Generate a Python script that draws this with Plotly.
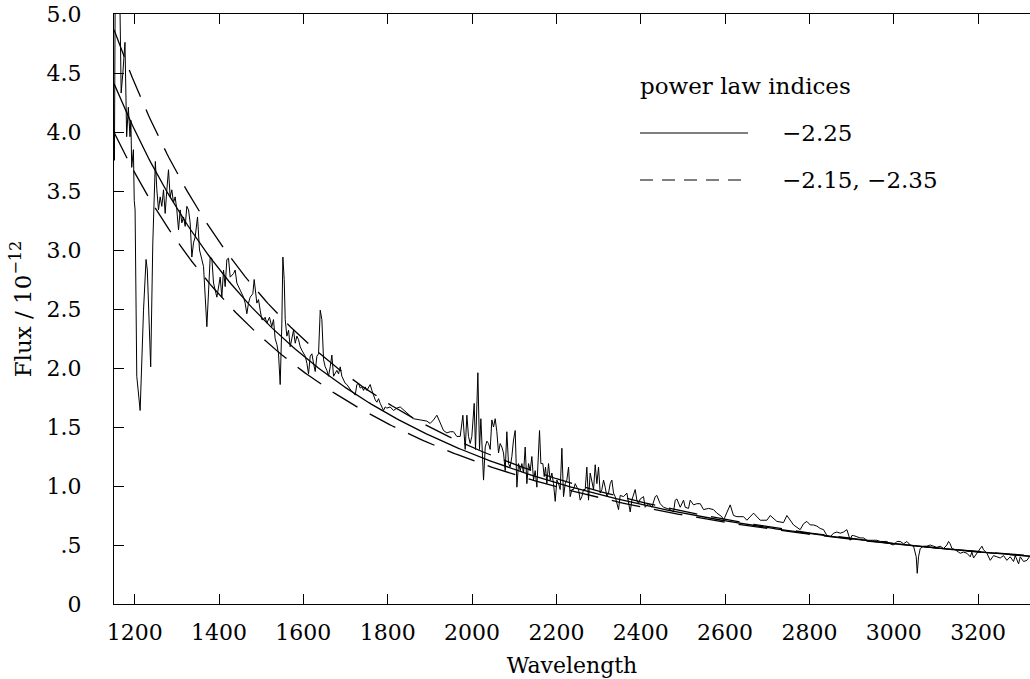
import numpy as np
import plotly.graph_objects as go

# ---- observed spectrum (wavelength, flux in 1e-12 units) ----
wavelength = [
    1151, 1152, 1154, 1160, 1165, 1166, 1168, 1172, 1177, 1181, 1185, 1189, 1191, 1193, 1197, 1199,
    1201, 1205, 1213, 1221, 1227, 1230, 1235, 1238, 1243, 1246, 1249,
    1252.6, 1256.5, 1260.5, 1264.4, 1268.4, 1272.3, 1276.3, 1280.2, 1284.2, 1288.1, 1292.1, 1296.0,
    1300.0, 1304.0, 1307.9, 1311.9, 1315.8, 1319.8, 1323.7, 1327.7, 1331.6, 1335.6, 1339.5, 1343.5,
    1349.0, 1353.8, 1363.3, 1371.2, 1379.1, 1383.0, 1387.0, 1394.9, 1402.8, 1406.7, 1410.7, 1414.6,
    1418.6, 1422.5, 1426.5, 1434.4, 1438.3, 1442.3, 1450.2, 1458.1, 1462.0, 1466.0, 1469.9, 1473.9,
    1480.2, 1483.4, 1489.7, 1493.6, 1497.6, 1501.5, 1505.5, 1509.4, 1513.4, 1519.7, 1525.2, 1529.2,
    1533.1, 1537.1,
    1541.1, 1545.1, 1549.0, 1551.4, 1554.6, 1557.0, 1560.9, 1564.9, 1568.8, 1572.8, 1576.7, 1580.7,
    1584.6, 1588.6, 1592.5, 1596.5, 1600.5, 1604.4, 1608.4, 1612.3, 1616.3, 1620.2, 1624.2, 1628.1,
    1632.1, 1636.0, 1640.0, 1643.9, 1647.9, 1651.8, 1655.8, 1659.7, 1663.7, 1667.6, 1671.6, 1675.5,
    1679.5, 1683.4, 1687.4, 1691.3, 1695.3, 1699.2, 1703.2, 1707.1, 1711.1, 1715.0, 1719.0, 1723.0,
    1726.9, 1730.9, 1734.8, 1738.8, 1742.7, 1746.7, 1750.6, 1754.6, 1758.5, 1762.5, 1766.4, 1770.4,
    1774.3, 1778.3, 1782.2, 1786.2, 1790.1, 1794.1, 1798.0, 1805.9, 1813.8, 1821.7,
    1829.6, 1845.4, 1861.2, 1877.0, 1892.8, 1900.7, 1908.6, 1916.6, 1924.5, 1932.4, 1940.3, 1948.2,
    1956.1, 1964.0, 1971.9, 1978.2, 1983.7, 1987.7, 1991.6, 1995.6, 1999.5, 2005.1, 2008.2, 2013.8,
    2017.7, 2020.9, 2027.2, 2031.2, 2035.1, 2039.1, 2043.0, 2047.0, 2050.9, 2054.9, 2058.8, 2062.8,
    2066.7, 2070.7, 2074.6, 2078.6, 2082.5, 2086.5, 2090.4, 2094.4, 2098.3, 2102.3, 2106.3, 2110.2,
    2114.2, 2118.1, 2122.1, 2126.0, 2130.0, 2133.9, 2137.9, 2141.8, 2145.8, 2149.7, 2153.7, 2157.6,
    2160.0, 2163.2, 2167.9, 2171.1, 2174.2, 2177.4, 2181.3, 2185.3, 2189.3, 2193.2, 2197.2, 2201.1,
    2205.1, 2209.0, 2213.0, 2216.9, 2220.9, 2224.8, 2228.8, 2232.7, 2236.7, 2240.6, 2244.6, 2248.5,
    2252.5, 2256.4, 2260.4, 2264.3, 2268.3, 2272.2, 2276.2, 2280.1, 2284.1, 2288.1, 2292.0, 2296.0,
    2299.9, 2303.9, 2307.8, 2311.8, 2315.7, 2319.7, 2323.6, 2327.6, 2331.5, 2335.5, 2339.4, 2343.4,
    2347.3, 2351.3, 2359.2, 2367.1, 2371.0, 2375.0, 2378.9, 2386.8, 2390.8, 2394.7, 2398.7, 2406.6,
    2410.5, 2418.5, 2426.4, 2434.3, 2438.2, 2446.1, 2454.0, 2461.9, 2469.9, 2477.8, 2481.7, 2485.7,
    2493.6, 2501.5, 2505.4, 2513.3, 2517.3, 2525.2, 2533.1, 2541.0, 2548.9, 2560.8, 2572.6, 2580.5,
    2592.4, 2596.3, 2604.2, 2612.1, 2620.0, 2628.0, 2643.8, 2651.7, 2667.5, 2675.4, 2683.3, 2699.1,
    2707.0, 2722.8, 2738.6, 2746.5, 2762.3, 2778.1,
    2786.0, 2793.9, 2801.8, 2809.7, 2817.7, 2825.6, 2833.5, 2841.4, 2849.3, 2857.2, 2865.1, 2873.0,
    2880.9, 2888.8, 2896.7, 2900.6, 2904.6, 2912.5, 2920.4, 2928.3, 2936.2, 2944.1, 2952.0, 2959.9,
    2967.8, 2975.7, 2983.6, 2991.5, 2999.5, 3007.4, 3015.3, 3023.2, 3031.1, 3039.0, 3046.9, 3053.2,
    3055.6, 3058.7, 3062.7, 3070.6, 3078.5, 3086.4, 3094.3, 3102.2, 3110.1, 3118.0, 3125.9, 3129.9,
    3133.8, 3137.8, 3145.7, 3153.6, 3157.5, 3165.4, 3173.4, 3181.3, 3185.2, 3189.2, 3197.1, 3205.0,
    3208.9, 3212.9, 3220.8, 3228.7, 3236.6, 3244.5, 3252.4, 3260.3, 3268.2, 3276.1, 3284.0, 3288.0,
    3295.9, 3299.9, 3307.8, 3315.7, 3323.6,
]
flux = [
    4.00, 3.76, 5.30, 5.30, 5.10, 4.50, 4.33, 4.50, 4.76, 3.96, 4.21, 3.96, 4.10, 3.70, 3.85, 3.42,
    3.34, 1.93, 1.64, 2.49, 2.92, 2.83, 2.21, 2.01, 3.06, 3.40, 3.75,
    3.51, 3.34, 3.45, 3.37, 3.51, 3.31, 3.51, 3.68, 3.45, 3.51, 3.40, 3.45,
    3.34, 3.17, 3.34, 3.23, 3.28, 3.20, 3.37, 3.34, 3.23, 2.94, 3.06, 3.11,
    3.28, 3.00, 2.86, 2.35, 2.94, 2.93, 2.72, 2.60, 2.77, 2.60, 2.83, 2.69,
    2.92, 2.93, 2.77, 2.80, 2.83, 2.72, 2.66, 2.60, 2.55, 2.46, 2.55, 2.60,
    2.63, 2.75, 2.55, 2.58, 2.49, 2.41, 2.41, 2.43, 2.38, 2.43, 2.35, 2.41,
    2.25, 2.20,
    2.12, 1.86, 2.38, 2.94, 2.75, 2.41, 2.27, 2.32, 2.18, 2.24, 2.32, 2.21,
    2.27, 2.24, 2.18, 2.15, 2.12, 2.10, 2.04, 1.95, 2.10, 2.12, 2.04, 1.97,
    2.10, 2.12, 2.49, 2.41, 2.07, 2.01, 1.98, 1.93, 2.01, 2.11, 1.93, 1.95,
    1.98, 1.95, 2.01, 1.93, 1.90, 1.87, 1.86, 1.84, 1.83, 1.80, 1.79, 1.77,
    1.86, 1.87, 1.83, 1.84, 1.81, 1.84, 1.81, 1.84, 1.86, 1.81, 1.76, 1.73,
    1.71, 1.74, 1.70, 1.67, 1.64, 1.67, 1.66, 1.67, 1.64, 1.66,
    1.67, 1.62, 1.57, 1.56, 1.55, 1.53, 1.56, 1.60, 1.53, 1.47, 1.45, 1.46,
    1.46, 1.42, 1.42, 1.60, 1.31, 1.60, 1.42, 1.36, 1.42, 1.70, 1.31, 1.96,
    1.31, 1.57, 1.05, 1.33, 1.38, 1.36, 1.31, 1.56, 1.50, 1.57, 1.46, 1.28,
    1.36, 1.33, 1.28, 1.13, 1.46, 1.19, 1.16, 1.25, 1.39, 1.47, 0.99, 1.19,
    1.13, 1.19, 1.11, 1.33, 1.02, 1.19, 1.13, 1.25, 1.05, 1.13, 0.99, 1.31,
    1.47, 1.19, 1.19, 1.08, 1.16, 1.02, 1.19, 1.05, 1.11, 1.02, 0.87, 1.05,
    1.02, 0.97, 1.32, 0.91, 1.02, 1.05, 1.16, 0.91, 0.97, 0.97, 1.02, 0.99,
    0.97, 0.88, 0.91, 0.97, 0.97, 1.16, 0.88, 1.11, 1.02, 0.97, 1.18, 1.02,
    1.16, 0.94, 0.97, 1.05, 0.99, 0.91, 0.94, 1.02, 1.05, 0.94, 0.91, 0.85,
    0.80, 0.92, 0.91, 0.94, 0.85, 0.78, 0.88, 0.97, 0.88, 0.85, 0.89, 0.91,
    0.82, 0.85, 0.82, 0.91, 0.92, 0.85, 0.82, 0.81, 0.80, 0.78, 0.88, 0.89,
    0.82, 0.88, 0.82, 0.81, 0.88, 0.84, 0.85, 0.85, 0.80, 0.81, 0.80, 0.77,
    0.74, 0.71, 0.77, 0.84, 0.75, 0.74, 0.74, 0.71, 0.77, 0.74, 0.71, 0.71,
    0.75, 0.70, 0.69, 0.75, 0.67, 0.63,
    0.68, 0.70, 0.67, 0.67, 0.66, 0.64, 0.63, 0.58, 0.57, 0.60, 0.61, 0.60,
    0.61, 0.63, 0.54, 0.58, 0.58, 0.57, 0.56, 0.56, 0.54, 0.54, 0.54, 0.54,
    0.53, 0.53, 0.53, 0.51, 0.50, 0.53, 0.53, 0.51, 0.53, 0.50, 0.49, 0.40,
    0.26, 0.40, 0.47, 0.49, 0.49, 0.50, 0.49, 0.48, 0.49, 0.47, 0.50, 0.53,
    0.51, 0.47, 0.46, 0.44, 0.43, 0.44, 0.43, 0.40, 0.44, 0.39, 0.43, 0.47,
    0.49, 0.46, 0.43, 0.37, 0.41, 0.40, 0.39, 0.41, 0.37, 0.40, 0.36, 0.41,
    0.34, 0.40, 0.36, 0.37, 0.41,
]

# ---- power-law models ----
power_law_indices = [-2.25, -2.15, -2.35]
norm_wavelength = 3080.0
norm_flux = 0.4816

x_tick_vals = [1200, 1400, 1600, 1800, 2000, 2200, 2400, 2600, 2800, 3000, 3200]
x_tick_text = [str(v) for v in x_tick_vals]
y_tick_vals = [0, 0.5, 1.0, 1.5, 2.0, 2.5, 3.0, 3.5, 4.0, 4.5, 5.0]
y_tick_text = ["0", ".5", "1.0", "1.5", "2.0", "2.5", "3.0", "3.5", "4.0", "4.5", "5.0"]

FONT = "DejaVu Serif"

fig = go.Figure()
fig.add_trace(go.Scatter(x=wavelength, y=flux, mode="lines",
                         line=dict(color="black", width=1), showlegend=False))

model_x = np.linspace(1151, 3324, 400)
dash_styles = {-2.25: "solid", -2.15: "29px,14px", -2.35: "29px,14px"}
for idx in power_law_indices:
    model_y = norm_flux * (model_x / norm_wavelength) ** idx
    fig.add_trace(go.Scatter(x=model_x, y=model_y, mode="lines",
                             line=dict(color="black", width=1.3, dash=dash_styles[idx]),
                             showlegend=False))

# legend drawn as annotations + line samples (paper coords)
PW, PH, L, T = 916, 590, 114, 14
def px(xp):
    return (xp - L) / PW
def py(yp):
    return 1 - (yp - T) / PH

LEG_SIZE = 23
fig.add_annotation(x=px(638), y=py(86), xref="paper", yref="paper", text="power law indices",
                   showarrow=False, xanchor="left", yanchor="middle",
                   font=dict(family=FONT, size=LEG_SIZE, color="black"))
fig.add_annotation(x=px(780), y=py(133), xref="paper", yref="paper", text="−2.25",
                   showarrow=False, xanchor="left", yanchor="middle",
                   font=dict(family=FONT, size=LEG_SIZE, color="black"))
fig.add_annotation(x=px(780), y=py(180), xref="paper", yref="paper", text="−2.15, −2.35",
                   showarrow=False, xanchor="left", yanchor="middle",
                   font=dict(family=FONT, size=LEG_SIZE, color="black"))
fig.add_shape(type="line", xref="paper", yref="paper", x0=px(640), x1=px(748), y0=py(133), y1=py(133),
              line=dict(color="black", width=1.2))
fig.add_shape(type="line", xref="paper", yref="paper", x0=px(640), x1=px(748), y0=py(180), y1=py(180),
              line=dict(color="black", width=1.2, dash="13px,9px"))

fig.update_layout(
    width=1030, height=679,
    margin=dict(l=114, r=0, t=14, b=75, autoexpand=False),
    paper_bgcolor="white", plot_bgcolor="white",
    font=dict(family=FONT, size=20, color="black"),
    xaxis=dict(range=[1151, 3323], tickvals=x_tick_vals, ticktext=x_tick_text,
               ticks="inside", ticklen=10, tickwidth=1, tickcolor="black",
               showline=True, linecolor="black", linewidth=1.2, mirror="ticks",
               showgrid=False, zeroline=False, automargin=False, ticklabelstandoff=8,
               title=dict(text="Wavelength", standoff=14, font=dict(family=FONT, size=22)),
               tickfont=dict(family=FONT, size=22)),
    yaxis=dict(range=[0, 5], tickvals=y_tick_vals, ticktext=y_tick_text,
               ticks="inside", ticklen=10, tickwidth=1, tickcolor="black",
               showline=True, linecolor="black", linewidth=1.2, mirror=True,
               showgrid=False, zeroline=False, automargin=False, ticklabelstandoff=27,
               title=dict(text="Flux / 10<sup>−12</sup>", standoff=8, font=dict(family=FONT, size=23)),
               tickfont=dict(family=FONT, size=22)),
)

fig.write_html("out.html", config={"displayModeBar": False},
               post_script="document.body.style.margin='0';document.body.style.overflow='hidden';")
